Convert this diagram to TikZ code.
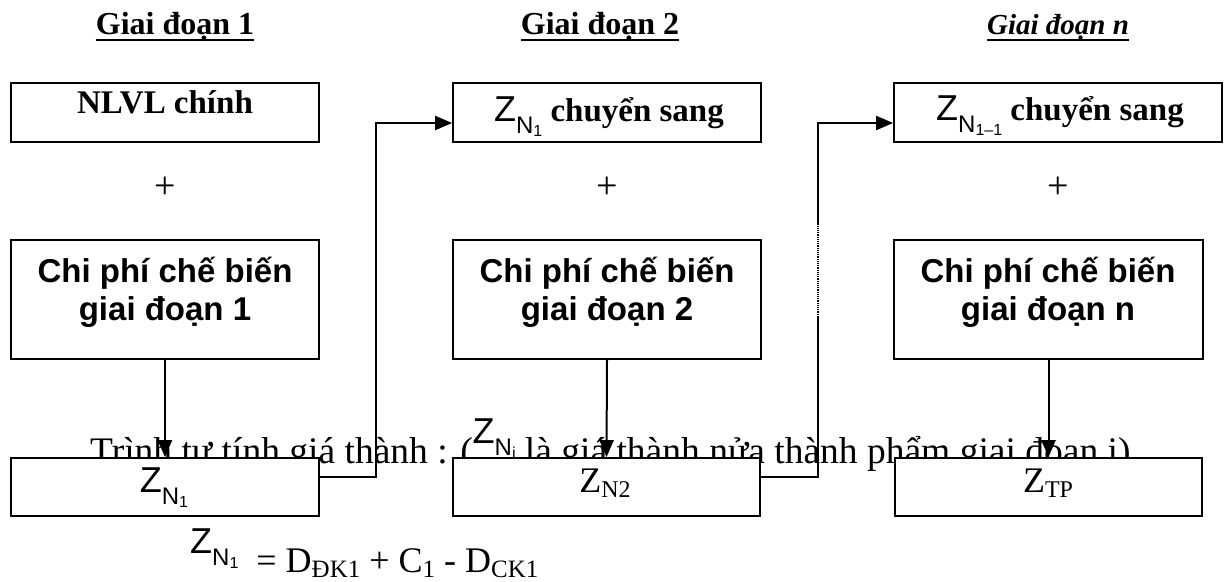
\documentclass[tikz,border=0pt]{standalone}
\usepackage{fontspec}
\usetikzlibrary{arrows.meta}
\newfontfamily\tnr{Liberation Serif}
\newfontfamily\arl{Liberation Sans}
\newcommand\fsz[1]{\fontsize{#1}{#1}\selectfont}
\newcommand\ZA[1]{{\arl\mdseries\upshape\fsz{36}Z\raisebox{-12pt}{\fsz{24}N\raisebox{-3pt}{\fsz{16}#1}}}}
\newcommand\ZT[1]{{\tnr\mdseries\upshape\fsz{36}Z\raisebox{-5pt}{\fsz{24}#1}}}
\begin{document}
\begin{tikzpicture}[x=1pt,y=-1pt,
  box/.style={draw, line width=1.7pt, fill=white, inner sep=0pt},
  txt/.style={inner sep=0pt, anchor=base},
  hdr/.style={inner sep=0pt, anchor=base, font=\tnr\bfseries\fsz{32}},
  ttl/.style={inner sep=0pt, anchor=base, font=\tnr\bfseries\fsz{33}},
  chi/.style={inner sep=0pt, anchor=base, font=\arl\bfseries\fsz{33}},
  pls/.style={inner sep=0pt, anchor=center, font=\tnr\fsz{38}},
  ul/.style={line width=2pt},
  ln/.style={line width=2pt},
  arr/.style={line width=2pt, -{Triangle[length=17pt,width=14pt]}},
  dots/.style={line width=1.5pt, dash pattern=on 1.2pt off 1pt}]
\fill[white] (0,0) rectangle (1225,581);
\useasboundingbox (0,0) rectangle (1225,581);

% headers
\node[hdr] (h1) at (175,34) {Giai đoạn 1};
\draw[ul] ([yshift=-6pt]h1.base west) -- ([yshift=-6pt]h1.base east);
\node[hdr] (h2) at (600,34) {Giai đoạn 2};
\draw[ul] ([yshift=-6pt]h2.base west) -- ([yshift=-6pt]h2.base east);
\node[hdr, font=\tnr\bfseries\itshape\fsz{29}] (h3) at (1058,34) {Giai đoạn n};
\draw[ul] ([yshift=-6pt]h3.base west) -- ([yshift=-6pt]h3.base east);

% sequence text (behind boxes)
\node[inner sep=0pt, anchor=base west, font=\tnr\fsz{37.5}] (seq) at (90,463)
  {Trình tự tính giá thành : (\raisebox{20pt}{\ZA{i}} là giá thành nửa thành phẩm giai đoạn i)};

% top row
\node[box, minimum width=308pt, minimum height=59pt] (b1) at (165,112.5) {};
\node[box, minimum width=308pt, minimum height=59pt] (b2) at (607,112.5) {};
\node[box, minimum width=328pt, minimum height=59pt] (b3) at (1058,112.5) {};
\node[ttl] (t1) at (165,113) {NLVL chính};
\node[ttl] (t2) at (609,121) {\ZA{1} chuyển sang};
\node[ttl] (t3) at (1060,120) {\ZA{1–1} chuyển sang};

% plus signs
\node[pls] (p1) at (165,188) {+};
\node[pls] (p2) at (607,188) {+};
\node[pls] (p3) at (1058,188) {+};

% middle row
\node[box, minimum width=308pt, minimum height=119pt] (c1) at (165,299.5) {};
\node[box, minimum width=308pt, minimum height=119pt] (c2) at (607,299.5) {};
\node[box, minimum width=309pt, minimum height=119pt] (c3) at (1048.5,299.5) {};
\node[chi] (c1a) at (165,282) {Chi phí chế biến};
\node[chi] (c1b) at (165,320) {giai đoạn 1};
\node[chi] (c2a) at (607,282) {Chi phí chế biến};
\node[chi] (c2b) at (607,320) {giai đoạn 2};
\node[chi] (c3a) at (1048,282) {Chi phí chế biến};
\node[chi] (c3b) at (1048,320) {giai đoạn n};

% bottom row
\node[box, minimum width=308pt, minimum height=58pt] (z1) at (165,487) {};
\node[box, minimum width=307pt, minimum height=58pt] (z2) at (606.5,487) {};
\node[box, minimum width=307pt, minimum height=58pt] (z3) at (1048.5,487) {};
\node[txt] (z1t) at (164,492) {\ZA{1}};
\node[txt] (z2t) at (605,492) {\ZT{N2}};
\node[txt] (z3t) at (1048,492) {\ZT{TP}};

% formula
\node[inner sep=0pt, anchor=base west] (f) at (190,572)
  {\raisebox{19pt}{\ZA{1}}\hspace{18pt}{\tnr\fsz{36}= D\raisebox{-5pt}{\fsz{25}ĐK1} + C\raisebox{-5pt}{\fsz{25}1} - D\raisebox{-5pt}{\fsz{25}CK1}}};

% arrows
\draw[arr] (c1.south) -- (z1.north);
\draw[arr] (c2.south) -- (z2.north);
\draw[arr] (c3.south) -- (z3.north);
\draw[arr] (z1.east |- 0,477) -- (376,477) -- (376,123) -- (b2.west |- 0,123);
\draw[ln] (z2.east |- 0,477) -- (818,477) -- (818,317);
\draw[dots] (818,317) -- (818,222);
\draw[arr] (818,222) -- (818,123) -- (b3.west |- 0,123);
\end{tikzpicture}
\end{document}
